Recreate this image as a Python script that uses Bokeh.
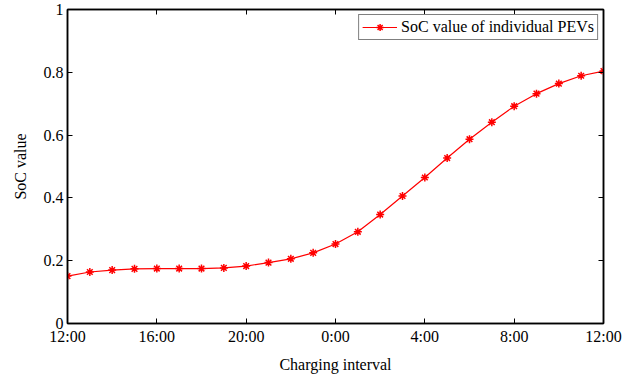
from bokeh.plotting import figure
from bokeh.models import Range1d, LinearAxis, FixedTicker, Legend, LegendItem
from bokeh.embed import file_html
from bokeh.resources import INLINE

hours = list(range(25))
soc = [0.151, 0.164, 0.170, 0.174, 0.175, 0.175, 0.175, 0.177, 0.183, 0.194,
       0.206, 0.225, 0.253, 0.292, 0.347, 0.406, 0.465, 0.527, 0.587, 0.641,
       0.692, 0.732, 0.764, 0.789, 0.804]
x_ticks = [0, 4, 8, 12, 16, 20, 24]
x_tick_labels = ["12:00", "16:00", "20:00", "0:00", "4:00", "8:00", "12:00"]
y_ticks = [0, 0.2, 0.4, 0.6, 0.8, 1.0]
y_tick_labels = ["0", "0.2", "0.4", "0.6", "0.8", "1"]
series_name = "SoC value of individual PEVs"

FONT = "Liberation Serif"
FS = "16px"

p = figure(width=643, height=378, output_backend="svg", toolbar_location=None,
           x_range=Range1d(0, 24), y_range=Range1d(0, 1),
           min_border_left=67, min_border_right=40, min_border_top=9, min_border_bottom=55)
p.xgrid.visible = False
p.ygrid.visible = False
p.outline_line_color = "black"
p.outline_line_width = 1.5
p.background_fill_color = "white"
p.border_fill_color = "white"

def style(ax, labels=True):
    ax.axis_line_color = "black"
    ax.axis_line_width = 1.5
    ax.major_tick_in = 5
    ax.major_tick_out = 0
    ax.minor_tick_line_color = None
    ax.major_tick_line_color = "black"
    ax.major_label_text_font = FONT
    ax.major_label_text_font_size = FS
    ax.major_label_text_color = "black"
    ax.major_label_standoff = 4
    ax.axis_label_text_font = FONT
    ax.axis_label_text_font_size = FS
    ax.axis_label_text_font_style = "normal"
    ax.axis_label_text_color = "black"
    if not labels:
        ax.major_label_text_color = None
        ax.major_label_standoff = 0

xa = p.xaxis[0]
xa.ticker = FixedTicker(ticks=x_ticks)
xa.major_label_overrides = {t: l for t, l in zip(x_ticks, x_tick_labels)}
xa.axis_label = "Charging interval"
xa.axis_label_standoff = 8
style(xa)

ya = p.yaxis[0]
ya.ticker = FixedTicker(ticks=y_ticks)
ya.major_label_overrides = {t: l for t, l in zip(y_ticks, y_tick_labels)}
ya.axis_label = "SoC value"
ya.axis_label_standoff = 12
style(ya)

top = LinearAxis(ticker=FixedTicker(ticks=x_ticks))
style(top, labels=False)
p.add_layout(top, "above")
right = LinearAxis(ticker=FixedTicker(ticks=y_ticks))
style(right, labels=False)
p.add_layout(right, "right")

ln = p.line(hours, soc, line_color="red", line_width=1.2)
mk = p.scatter(hours, soc, marker="asterisk", size=8, line_color="red", line_width=1.5)

legend = Legend(items=[LegendItem(label=series_name, renderers=[ln, mk])],
                location="top_right")
legend.label_text_font = FONT
legend.label_text_font_size = FS
legend.label_text_color = "black"
legend.border_line_color = "black"
legend.border_line_width = 1
legend.margin = 5
legend.padding = 3
legend.glyph_width = 35
legend.glyph_height = 18
legend.label_standoff = 4
legend.spacing = 0
p.add_layout(legend)

open("out.html", "w").write(file_html(p, INLINE))
